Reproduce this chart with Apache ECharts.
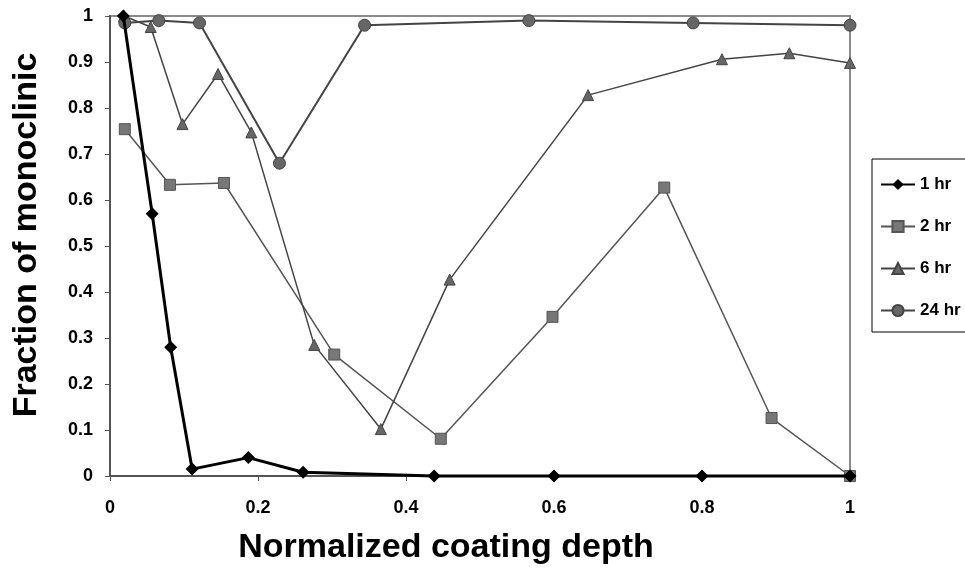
<!DOCTYPE html>
<html>
<head>
<meta charset="utf-8">
<script src="https://cdn.jsdelivr.net/npm/echarts@6/dist/echarts.min.js"></script>
<style>
  html, body { margin: 0; padding: 0; background: #fff; }
  #main { width: 965px; height: 573px; }
</style>
</head>
<body>
<div id="main"></div>
<script>
// values
const depth1 = [0.018, 0.057, 0.082, 0.111, 0.187, 0.261, 0.438, 0.6, 0.8, 1.0];
const frac1 = [1.0, 0.57, 0.28, 0.015, 0.04, 0.008, 0, 0, 0, 0];

const depth2 = [0.02, 0.081, 0.154, 0.303, 0.447, 0.598, 0.749, 0.894, 1.0];
const frac2 = [0.754, 0.633, 0.637, 0.264, 0.081, 0.346, 0.627, 0.126, 0];

const depth6 = [0.019, 0.055, 0.098, 0.146, 0.191, 0.276, 0.366, 0.459, 0.646, 0.827, 0.918, 1.0];
const frac6 = [1.0, 0.976, 0.765, 0.874, 0.747, 0.285, 0.102, 0.427, 0.828, 0.906, 0.919, 0.898];

const depth24 = [0.02, 0.066, 0.121, 0.229, 0.344, 0.566, 0.788, 1.0];
const frac24 = [0.985, 0.99, 0.985, 0.68, 0.98, 0.99, 0.985, 0.98];

const seriesNames = ['1 hr', '2 hr', '6 hr', '24 hr'];

function pairs(xs, ys) {
    return xs.map((x, i) => [x, ys[i]]);
}

const font = 'Liberation Sans, Arial, sans-serif';

let chartDom = document.getElementById('main');
let myChart = echarts.init(chartDom);
let option;

option = {
    animation: false,
    backgroundColor: '#fff',
    textStyle: { fontFamily: font },
    grid: {
        left: 110,
        right: 115,
        top: 16,
        bottom: 97,
        show: true,
        borderColor: '#8a8a8a',
        borderWidth: 2
    },
    legend: {
        orient: 'vertical',
        left: 872,
        top: 159,
        padding: [17, 30, 13, 8],
        itemWidth: 34,
        itemHeight: 14,
        itemGap: 25,
        borderColor: '#000',
        borderWidth: 1,
        textStyle: { fontSize: 17, fontWeight: 'bold', color: '#000', fontFamily: font },
        data: seriesNames
    },
    xAxis: {
        type: 'value',
        min: 0,
        max: 1,
        interval: 0.2,
        name: 'Normalized coating depth',
        nameLocation: 'middle',
        nameGap: 55,
        nameTextStyle: {
            fontSize: 34, fontWeight: 'bold', color: '#000', fontFamily: font,
            padding: [0, 68, 0, 0]
        },
        axisLine: { lineStyle: { color: '#555', width: 2 } },
        axisTick: { length: 5, lineStyle: { color: '#555' } },
        axisLabel: { fontSize: 18, fontWeight: 'bold', color: '#000', margin: 23 },
        splitLine: { show: false }
    },
    yAxis: {
        type: 'value',
        min: 0,
        max: 1,
        interval: 0.1,
        name: 'Fraction of monoclinic',
        nameLocation: 'middle',
        nameGap: 66,
        nameTextStyle: {
            fontSize: 34, fontWeight: 'bold', color: '#000', fontFamily: font,
            padding: [0, 0, 0, 22]
        },
        axisLine: { show: true, lineStyle: { color: '#555', width: 2 } },
        axisTick: { show: true, length: 5, lineStyle: { color: '#555' } },
        axisLabel: { fontSize: 18, fontWeight: 'bold', color: '#000', margin: 17 },
        splitLine: { show: false }
    },
    series: [
        {
            name: '1 hr',
            type: 'line',
            clip: false,
            data: pairs(depth1, frac1),
            symbol: 'diamond',
            symbolSize: 13,
            lineStyle: { color: '#000', width: 3 },
            itemStyle: { color: '#000' },
            z: 5
        },
        {
            name: '2 hr',
            type: 'line',
            clip: false,
            data: pairs(depth2, frac2),
            symbol: 'rect',
            symbolSize: 11,
            lineStyle: { color: '#555', width: 1.5 },
            itemStyle: { color: '#777', borderColor: '#555', borderWidth: 1 },
            z: 3
        },
        {
            name: '6 hr',
            type: 'line',
            clip: false,
            data: pairs(depth6, frac6),
            symbol: 'triangle',
            symbolSize: 11,
            lineStyle: { color: '#444', width: 1.5 },
            itemStyle: { color: '#666', borderColor: '#444', borderWidth: 1 },
            z: 3
        },
        {
            name: '24 hr',
            type: 'line',
            clip: false,
            data: pairs(depth24, frac24),
            symbol: 'circle',
            symbolSize: 12,
            lineStyle: { color: '#444', width: 2 },
            itemStyle: { color: '#666', borderColor: '#444', borderWidth: 1 },
            z: 4
        }
    ]
};

option && myChart.setOption(option);
</script>
</body>
</html>
